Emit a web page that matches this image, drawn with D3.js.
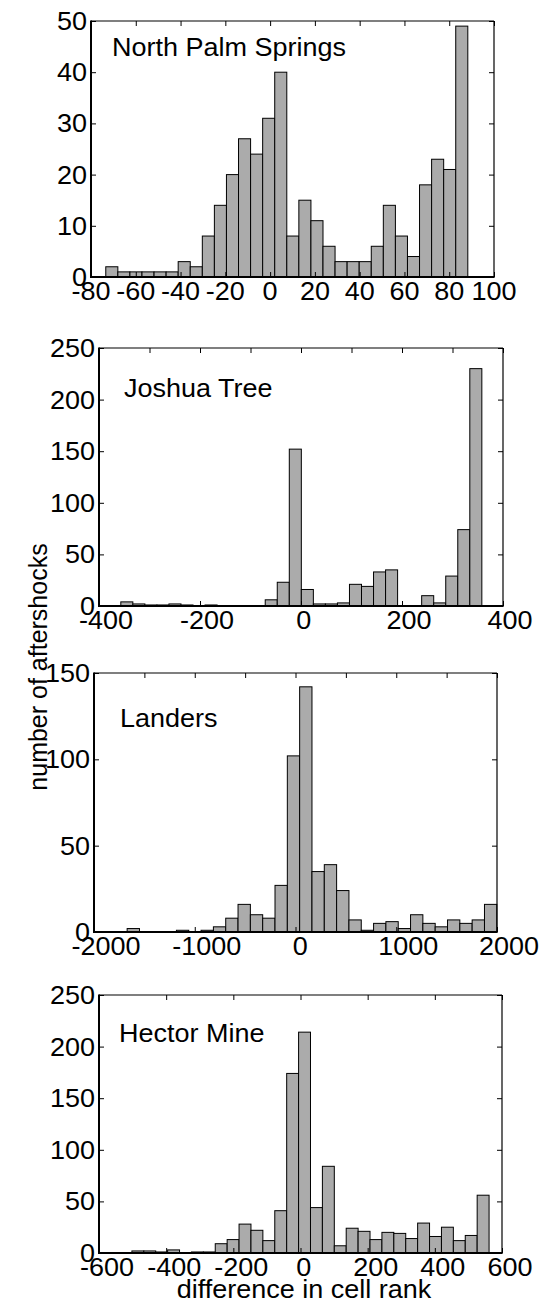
<!DOCTYPE html>
<html>
<head>
<meta charset="utf-8">
<script src="https://cdn.jsdelivr.net/npm/d3@7"></script>
<style>
  html, body { margin: 0; padding: 0; background: #fff; }
  svg { display: block; }
  text { font-family: "Liberation Sans", Arial, Helvetica, sans-serif; fill: #000; }
</style>
</head>
<body>
<svg id="chart" width="548" height="1305"></svg>
<script>
// ---------- data ----------
const panelNames = ["North Palm Springs", "Joshua Tree", "Landers", "Hector Mine"];

const countsNorthPalmSprings = [2, 1, 1, 1, 1, 1, 3, 2, 8, 14, 20, 27, 24, 31, 40,
                                8, 15, 11, 6, 3, 3, 3, 6, 14, 8, 4, 18, 23, 21, 49];
const countsJoshuaTree = [4, 2, 1, 1, 2, 1, 0, 1, 0, 0, 0, 0, 6, 23, 152,
                          16, 2, 2, 3, 21, 19, 33, 35, 0, 0, 10, 3, 29, 74, 230];
const countsLanders = [2, 0, 0, 0, 1, 0, 1, 3, 8, 16, 10, 8, 27, 102, 142,
                       35, 39, 24, 7, 1, 5, 6, 2, 10, 5, 3, 7, 5, 7, 16];
const countsHectorMine = [2, 2, 1, 3, 0, 1, 1, 9, 13, 28, 22, 12, 41, 174, 214,
                          44, 84, 7, 24, 21, 13, 20, 19, 14, 29, 16, 25, 12, 17, 56];

// histogram bin edges (first edge and bin width, in rank units)
const binStart = [-73.4, -356.8, -1671, -502];
const binWidth = [5.39, 23.83, 122.3, 35.45];

const xTicks = [
  [-80, -60, -40, -20, 0, 20, 40, 60, 80, 100],
  [-400, -200, 0, 200, 400],
  [-2000, -1000, 0, 1000, 2000],
  [-600, -400, -200, 0, 200, 400, 600]
];
const xTopTicks = [
  [-80, -60, -40, -20, 0, 20, 40, 60, 80, 100],
  [-400, -300, -200, -100, 0, 100, 200, 300, 400],
  [-2000, -1500, -1000, -500, 0, 500, 1000, 1500, 2000],
  [-600, -400, -200, 0, 200, 400, 600]
];
const yTicks = [
  [0, 10, 20, 30, 40, 50],
  [0, 50, 100, 150, 200, 250],
  [0, 50, 100, 150],
  [0, 50, 100, 150, 200, 250]
];

const xLabel = "difference in cell rank";
const yLabel = "number of aftershocks";

// ---------- layout ----------
const allCounts = [countsNorthPalmSprings, countsJoshuaTree, countsLanders, countsHectorMine];
const boxes = [
  {l: 91, r: 494, t: 21, b: 277, lx: 21, ly: 35, dx: 0},
  {l: 99, r: 503, t: 348, b: 606, lx: 25, ly: 49, dx: 7},
  {l: 94, r: 497, t: 673, b: 932, lx: 26, ly: 54, dx: 12},
  {l: 99, r: 502, t: 995, b: 1253, lx: 20, ly: 47, dx: 8}
];
const FS = 25, SX = 1.08, TICK = 5;

const svg = d3.select("#chart");

function hText(g, x, y, str, anchor) {
  return g.append("text")
    .attr("transform", `translate(${x},${y}) scale(${SX},1)`)
    .attr("text-anchor", anchor || "start")
    .attr("font-size", FS)
    .text(str);
}

allCounts.forEach((counts, p) => {
  const B = boxes[p];
  const xt = xTicks[p], yt = yTicks[p];
  const x = d3.scaleLinear().domain([xt[0], xt[xt.length - 1]]).range([B.l, B.r]);
  const y = d3.scaleLinear().domain([yt[0], yt[yt.length - 1]]).range([B.b, B.t]);
  const g = svg.append("g");

  // bars
  g.selectAll("rect.bar")
    .data(counts.map((v, i) => ({v, x0: binStart[p] + i * binWidth[p], x1: binStart[p] + (i + 1) * binWidth[p]})))
    .join("rect")
    .attr("class", "bar")
    .attr("x", d => x(d.x0))
    .attr("width", d => x(d.x1) - x(d.x0))
    .attr("y", d => y(d.v))
    .attr("height", d => y(0) - y(d.v))
    .attr("fill", "#ababab")
    .attr("stroke", "#000")
    .attr("stroke-width", 1);

  // axes frame
  g.append("line").attr("x1", B.l).attr("x2", B.r).attr("y1", B.t).attr("y2", B.t)
    .attr("stroke", "#000").attr("stroke-width", 1.2);
  g.append("line").attr("x1", B.r).attr("x2", B.r).attr("y1", B.t).attr("y2", B.b)
    .attr("stroke", "#000").attr("stroke-width", 1.2);
  g.append("line").attr("x1", B.l).attr("x2", B.l).attr("y1", B.t - 0.6).attr("y2", B.b + 1)
    .attr("stroke", "#000").attr("stroke-width", 2);
  g.append("line").attr("x1", B.l - 1).attr("x2", B.r + 0.6).attr("y1", B.b).attr("y2", B.b)
    .attr("stroke", "#000").attr("stroke-width", 2);

  // bottom axis ticks + labels
  const gxb = g.append("g").attr("transform", `translate(0,${B.b})`)
    .call(d3.axisBottom(x).tickValues(xt).tickSize(TICK));
  gxb.select(".domain").remove();
  gxb.selectAll(".tick line").attr("y2", -TICK).attr("stroke", "#000");
  gxb.selectAll(".tick text").remove();
  xt.forEach(v => hText(g, x(v) + (v === 0 ? B.dx * 0.4 : B.dx), B.b + 23, String(v), "middle"));

  // top ticks
  const gxt = g.append("g").attr("transform", `translate(0,${B.t})`)
    .call(d3.axisTop(x).tickValues(xTopTicks[p]).tickSize(TICK));
  gxt.select(".domain").remove();
  gxt.selectAll(".tick line").attr("y2", TICK).attr("stroke", "#000");
  gxt.selectAll(".tick text").remove();

  // left ticks + labels
  const gyl = g.append("g").attr("transform", `translate(${B.l},0)`)
    .call(d3.axisLeft(y).tickValues(yt).tickSize(TICK));
  gyl.select(".domain").remove();
  gyl.selectAll(".tick line").attr("x2", TICK).attr("stroke", "#000");
  gyl.selectAll(".tick text").remove();
  yt.forEach(v => hText(g, B.l - 4, y(v) + 9, String(v), "end"));

  // right ticks
  const gyr = g.append("g").attr("transform", `translate(${B.r},0)`)
    .call(d3.axisRight(y).tickValues(yt).tickSize(TICK));
  gyr.select(".domain").remove();
  gyr.selectAll(".tick line").attr("x2", -TICK).attr("stroke", "#000");
  gyr.selectAll(".tick text").remove();

  // panel name
  hText(g, B.l + B.lx, B.t + B.ly, panelNames[p], "start");
});

// axis titles
hText(svg, 304, 1298, xLabel, "middle");
svg.append("text")
  .attr("transform", "translate(47,667) rotate(-90)")
  .attr("text-anchor", "middle")
  .attr("font-size", FS)
  .text(yLabel);
</script>
</body>
</html>
